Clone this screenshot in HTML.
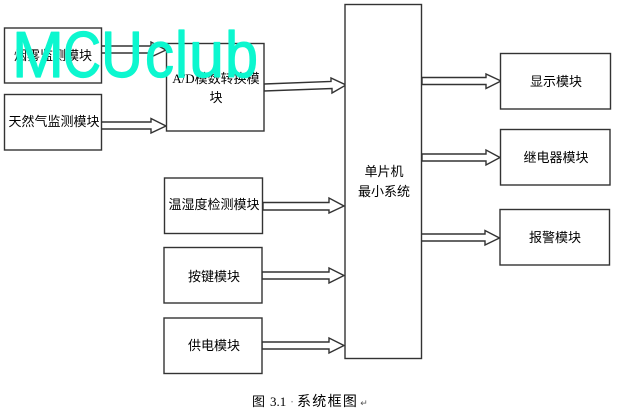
<!DOCTYPE html>
<html><head><meta charset="utf-8">
<style>
html,body{margin:0;padding:0;background:#fff}
svg{display:block}
.b{fill:#fff;stroke:#333;stroke-width:1.4}
.a{fill:#fff;stroke:#333;stroke-width:1.4}
text{font-family:"Liberation Serif","Noto Sans CJK SC",serif;font-size:13px;fill:#000;text-anchor:middle}
.w{font-family:"Liberation Sans",sans-serif;font-size:65px;fill:#0cf7cf;stroke:#0cf7cf;stroke-width:1.2;stroke-linejoin:round;text-anchor:start}
</style></head>
<body>
<svg width="620" height="414" viewBox="0 0 620 414" xmlns="http://www.w3.org/2000/svg">
<rect width="620" height="414" fill="#fff"/>
<!-- arrows -->
<polygon class="a" points="101,46 151,46 151,42 166,50 151,57 151,53 101,53"/>
<polygon class="a" points="101,122 151,122 151,118.5 166,126 151,133 151,129 101,129"/>
<polygon class="a" points="264,84 331,81.5 331,78 346,85 332,93 332,88.5 264,91"/>
<polygon class="a" points="263,202.5 329,202.5 329,198 344,206 329,213 329,210 263,210"/>
<polygon class="a" points="262,272 329,272 329,268 344,275.5 329,283 329,279 262,279"/>
<polygon class="a" points="262,342 329,342 329,338 344,345.5 329,353 329,349 262,349"/>
<polygon class="a" points="422,77.5 486,77.5 486,74 501,81 486,88.5 486,84.5 422,84.5"/>
<polygon class="a" points="422,154 486,154 486,150 500,157.5 486,165 486,161 422,161"/>
<polygon class="a" points="421,234 485,234 485,230.5 499.5,238 485,245 485,241 421,241"/>
<!-- boxes -->
<rect class="b" x="4.5" y="28" width="97" height="55"/>
<rect class="b" x="4.5" y="94.5" width="97" height="55.5"/>
<rect class="b" x="166.5" y="43.5" width="97.5" height="87.5"/>
<rect class="b" x="164.5" y="178" width="98" height="55.5"/>
<rect class="b" x="164" y="247.5" width="98" height="55.5"/>
<rect class="b" x="164" y="318" width="98" height="55.5"/>
<rect class="b" x="345" y="4.5" width="76.5" height="354"/>
<rect class="b" x="500.5" y="53.5" width="110" height="55.5"/>
<rect class="b" x="500.5" y="129.5" width="109.5" height="55.5"/>
<rect class="b" x="500" y="209.5" width="109.5" height="55.5"/>
<!-- labels -->
<text x="53" y="60">烟雾监测模块</text>
<text x="54" y="126">天然气监测模块</text>
<text x="216" y="83">A/D模数转换模</text>
<text x="216" y="102">块</text>
<text x="214" y="209">温湿度检测模块</text>
<text x="214" y="281">按键模块</text>
<text x="214" y="350">供电模块</text>
<text x="384" y="176">单片机</text>
<text x="384" y="196">最小系统</text>
<text x="556" y="86">显示模块</text>
<text x="556" y="162">继电器模块</text>
<text x="555" y="242">报警模块</text>
<text x="252" y="406" style="text-anchor:start">图</text>
<text x="270" y="406" style="text-anchor:start">3.1</text>
<text x="292" y="406" style="fill:#888">·</text>
<text x="297" y="406" style="text-anchor:start;font-size:14px;letter-spacing:1.3px">系统框图</text>
<text x="364" y="406" style="font-size:9px;fill:#555">↵</text>
<!-- watermark -->
<text class="w" x="12" y="77" textLength="52" lengthAdjust="spacingAndGlyphs">M</text>
<text class="w" x="63" y="77" textLength="38" lengthAdjust="spacingAndGlyphs">C</text>
<text class="w" x="101" y="77" textLength="42" lengthAdjust="spacingAndGlyphs">U</text>
<text class="w" x="145" y="77" textLength="29" lengthAdjust="spacingAndGlyphs">c</text>
<text class="w" x="175" y="77" textLength="13" lengthAdjust="spacingAndGlyphs">l</text>
<text class="w" x="189" y="77" textLength="35" lengthAdjust="spacingAndGlyphs">u</text>
<text class="w" x="225" y="77" textLength="33" lengthAdjust="spacingAndGlyphs">b</text>
</svg>
</body></html>
